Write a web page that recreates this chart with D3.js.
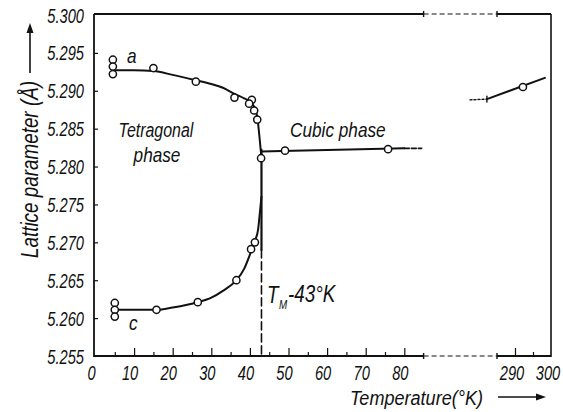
<!DOCTYPE html>
<html>
<head>
<meta charset="utf-8">
<script src="https://cdn.jsdelivr.net/npm/d3@7"></script>
<style>
  html, body { margin: 0; padding: 0; background: #fff; }
  svg { display: block; }
  text { font-family: "Liberation Sans", Arial, sans-serif; font-style: italic; fill: #111; }
</style>
</head>
<body>
<svg id="chart" width="563" height="412"></svg>
<script>
// Measured points: tetragonal a-axis
const aTemps = [4.5, 4.5, 4.5, 15, 26, 36, 40.5, 39.8, 41.1, 41.9];
const aVals  = [5.2941, 5.2932, 5.2922, 5.2930, 5.2912, 5.2891, 5.2888, 5.2883, 5.2874, 5.2862];
// Measured points: tetragonal c-axis
const cTemps = [5.0, 5.0, 5.0, 15.8, 26.5, 36.5, 40.3, 41.3];
const cVals  = [5.2620, 5.2611, 5.2602, 5.2611, 5.2621, 5.2650, 5.2691, 5.2700];
// Measured points: cubic phase
const cubicTemps = [42.9, 49.1, 75.8];
const cubicVals  = [5.2811, 5.2821, 5.2823];
// Room-temperature point
const roomTemps = [292.2];
const roomVals  = [5.2905];

// Smooth curves drawn through the data
const aCurveTemps = [4.8, 10, 15, 20, 26, 30, 33, 36, 38.5, 40, 41, 41.5, 42.0, 42.5, 42.8, 43];
const aCurveVals  = [5.2927, 5.2927, 5.2926, 5.2921, 5.2914, 5.2909, 5.2904, 5.2896, 5.2890, 5.2886, 5.2880, 5.2875, 5.2862, 5.2838, 5.2822, 5.2811];
const cCurveTemps = [5.0, 10, 15.8, 20, 26.5, 30, 33, 36.5, 38.5, 40.3, 41.3, 42.1, 42.6, 43];
const cCurveVals  = [5.2611, 5.2611, 5.2611, 5.2614, 5.2621, 5.2627, 5.2636, 5.2650, 5.2665, 5.2688, 5.2702, 5.2716, 5.2740, 5.2760];
const cubicCurveTemps = [43, 60, 80];
const cubicCurveVals  = [5.2820, 5.2822, 5.2824];
const cubicTailTemps = [80, 84.5];
const cubicTailVals  = [5.2824, 5.2824];
const roomLineTemps = [282.2, 298.3];
const roomLineVals  = [5.2889, 5.2917];
const roomTailTemps = [277.5, 282.2];
const roomTailVals  = [5.2888, 5.2889];

// Transition temperature and vertical segment limits
const transitionTemp = 43;
const transitionSolid = [5.2690, 5.2822];

// Axis ticks
const yTicks = [5.255, 5.260, 5.265, 5.270, 5.275, 5.280, 5.285, 5.290, 5.295, 5.300];
const xTicksLow = [0, 10, 20, 30, 40, 50, 60, 70, 80];
const xMinorLow = [5, 15, 25, 35, 45, 55, 65, 75];
const xTicksHigh = [290, 300];
const xMinorHigh = [295];
const lowDomain = [0, 85];
const highDomain = [285, 300];

const svg = d3.select("#chart");
const L = 94, R = 551, T = 14, B = 356;

const y = d3.scaleLinear().domain([5.255, 5.300]).range([B, T + 1]);
const xLow = d3.scaleLinear().domain(lowDomain).range([95.5, 423.6]);
const xHigh = d3.scaleLinear().domain(highDomain).range([497, 551]);
const xOf = t => (t > 150 ? xHigh(t) : xLow(t));

// Frame with broken horizontal axes
const frame = svg.append("g").attr("stroke", "#111").attr("fill", "none");
frame.append("line").attr("x1", L).attr("x2", L).attr("y1", T).attr("y2", B + 1).attr("stroke-width", 1.8);
frame.append("line").attr("x1", R).attr("x2", R).attr("y1", T).attr("y2", B + 1).attr("stroke-width", 1.6);
[T, B].forEach(yy => {
  frame.append("line").attr("x1", L).attr("x2", xLow(lowDomain[1])).attr("y1", yy).attr("y2", yy).attr("stroke-width", 1.8);
  frame.append("line").attr("x1", xLow(lowDomain[1])).attr("x2", xHigh(highDomain[0])).attr("y1", yy).attr("y2", yy)
    .attr("stroke-width", 1).attr("stroke-dasharray", "5 3");
  frame.append("line").attr("x1", xHigh(highDomain[0])).attr("x2", R).attr("y1", yy).attr("y2", yy).attr("stroke-width", 1.8);
  [xLow(lowDomain[1]), xHigh(highDomain[0])].forEach(xx => {
    frame.append("line").attr("x1", xx).attr("x2", xx).attr("y1", yy - 3).attr("y2", yy + 3).attr("stroke-width", 1.4);
  });
});

// Condensed italic text helper
function label(g, x, yy, str, size, anchor, sx, rot) {
  return g.append("text")
    .attr("transform", `translate(${x},${yy})${rot ? ` rotate(${rot})` : ""} scale(${sx},1)`)
    .attr("text-anchor", anchor || "start")
    .style("font-size", size + "px")
    .text(str);
}

// Y axis ticks and labels
const yAxis = svg.append("g").attr("transform", `translate(${L},0)`)
  .call(d3.axisLeft(y).tickValues(yTicks).tickSize(-4).tickPadding(0).tickFormat(""));
yAxis.select(".domain").remove();
yAxis.selectAll(".tick line").attr("stroke", "#111").attr("stroke-width", 1.2)
  .filter(d => d === 5.255 || d === 5.300).remove();
const yLab = svg.append("g");
yTicks.forEach(v => label(yLab, 84, y(v) + 7.5, d3.format(".3f")(v), 21, "end", 0.7));

// X axis ticks (inward) for both segments
function xTickAxis(scale, vals, size) {
  const g = svg.append("g").attr("transform", `translate(0,${B})`)
    .call(d3.axisBottom(scale).tickValues(vals).tickSize(-size).tickFormat(""));
  g.select(".domain").remove();
  g.selectAll(".tick line").attr("stroke", "#111").attr("stroke-width", 1.2);
  return g;
}
xTickAxis(xLow, xTicksLow.filter(v => v > 0), 8);
xTickAxis(xLow, xMinorLow, 4);
xTickAxis(xHigh, xTicksHigh.filter(v => v < 300), 8);
xTickAxis(xHigh, xMinorHigh, 4);

const xLab = svg.append("g");
xTicksLow.forEach(v => label(xLab, xLow(v) - 4, 380, String(v), 21, "middle", 0.7));
xTicksHigh.forEach(v => label(xLab, xHigh(v) - 3, 380, String(v), 21, "middle", 0.7));

// Axis titles with arrows
label(svg, 38, 258, "Lattice parameter (Å)", 23, "start", 0.82, -90);
svg.append("line").attr("x1", 30).attr("x2", 30).attr("y1", 73).attr("y2", 30)
  .attr("stroke", "#111").attr("stroke-width", 1.6);
svg.append("path").attr("d", "M30,23 L26.5,33 L33.5,33 Z").attr("fill", "#111");

label(svg, 350, 405, "Temperature(°K)", 21, "start", 0.86);
svg.append("line").attr("x1", 498).attr("x2", 538).attr("y1", 397).attr("y2", 397)
  .attr("stroke", "#111").attr("stroke-width", 1.6);
svg.append("path").attr("d", "M546,397 L536,393.5 L536,400.5 Z").attr("fill", "#111");

// Curves
const line = d3.line().x(d => xOf(d[0])).y(d => y(d[1])).curve(d3.curveMonotoneX);
const straight = d3.line().x(d => xOf(d[0])).y(d => y(d[1]));
const zip = (a, b) => a.map((t, i) => [t, b[i]]);
const curves = svg.append("g").attr("fill", "none").attr("stroke", "#111").attr("stroke-linecap", "round");
curves.append("path").attr("d", line(zip(aCurveTemps, aCurveVals))).attr("stroke-width", 2);
curves.append("path").attr("d", line(zip(cCurveTemps, cCurveVals))).attr("stroke-width", 2);
curves.append("path").attr("d", line(zip(cubicCurveTemps, cubicCurveVals))).attr("stroke-width", 2);
curves.append("path").attr("d", straight(zip(cubicTailTemps, cubicTailVals))).attr("stroke-width", 1.6).attr("stroke-dasharray", "5 2");
curves.append("path").attr("d", straight(zip(roomLineTemps, roomLineVals))).attr("stroke-width", 2);
curves.append("path").attr("d", straight(zip(roomTailTemps, roomTailVals)))
  .attr("stroke-width", 1.4).attr("stroke-dasharray", "2 2");
// small mark where the room-temperature line begins
curves.append("line").attr("x1", xOf(roomLineTemps[0])).attr("x2", xOf(roomLineTemps[0]))
  .attr("y1", y(roomLineVals[0]) - 3).attr("y2", y(roomLineVals[0]) + 3).attr("stroke-width", 1.4);

// Transition line
const xt = xLow(transitionTemp);
curves.append("line").attr("x1", xt).attr("x2", xt).attr("y1", y(transitionSolid[0])).attr("y2", y(transitionSolid[1])).attr("stroke-width", 2.2);
curves.append("line").attr("x1", xt).attr("x2", xt).attr("y1", y(transitionSolid[0])).attr("y2", B)
  .attr("stroke-width", 1.6).attr("stroke-dasharray", "8 4");

// Data circles
const pts = svg.append("g").attr("fill", "#fff").attr("stroke", "#111").attr("stroke-width", 1.5);
[[aTemps, aVals], [cTemps, cVals], [cubicTemps, cubicVals], [roomTemps, roomVals]].forEach(([ts, vs]) => {
  pts.selectAll(null).data(zip(ts, vs)).enter().append("circle")
    .attr("cx", d => xOf(d[0])).attr("cy", d => y(d[1])).attr("r", 3.6);
});

// Annotations
const ann = svg.append("g");
label(ann, 127, 63, "a", 21, "start", 0.82);
label(ann, 129, 330, "c", 21, "start", 0.82);
label(ann, 156, 137, "Tetragonal", 21, "middle", 0.76);
label(ann, 157, 162, "phase", 21, "middle", 0.82);
label(ann, 290, 137, "Cubic phase", 21, "start", 0.82);
label(ann, 267, 303, "T", 23, "start", 0.82);
label(ann, 279, 309, "M", 12, "start", 0.82);
label(ann, 288, 302, "-43°K", 23, "start", 0.82);
</script>
</body>
</html>
